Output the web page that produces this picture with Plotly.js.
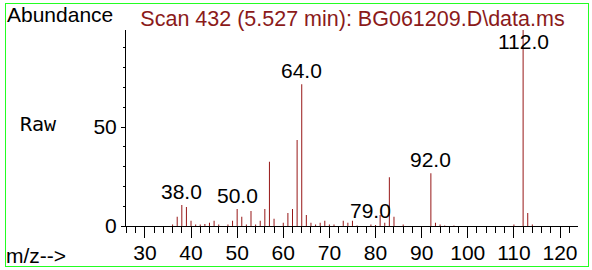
<!DOCTYPE html>
<html>
<head>
<meta charset="utf-8">
<script src="https://cdn.plot.ly/plotly-3.0.1.min.js"></script>
<style>
  html, body { margin: 0; padding: 0; background: #fff; }
  #wrap { position: relative; width: 592px; height: 270px; }
  #chart { width: 592px; height: 270px; }
  #frame { position: absolute; left: 5px; top: 3px; width: 582px; height: 262px;
           border: 1px solid #22ff22; pointer-events: none; }
</style>
</head>
<body>
<div id="wrap"><div id="chart"></div><div id="frame"></div></div>
<script>
// m/z values and abundances
const mz = [36,37,38,39,40,41,42,43,44,45,46,48,49,50,51,52,53,54,55,56,57,58,
            60,61,62,63,64,65,66,67,68,69,70,71,73,74,75,76,79,80,81,82,83,84,86,
            92,93,94,95,97,110,112,113,114];
const abundance = [0.8,4.7,10.6,9.6,2.7,0.8,0.8,1.0,1.7,2.7,0.8,0.8,2.7,8.6,4.7,0.8,7.6,0.8,2.7,8.6,32.5,3.7,
            1.7,6.6,8.6,43.4,71.6,5.6,1.7,0.8,1.7,2.7,0.8,0.8,2.7,1.7,2.7,0.3,0.8,0.5,5.6,1.7,24.6,4.7,0.8,
            26.6,1.7,0.8,0.3,0.3,0.8,99,6.6,0.8];
const labeledPeaks = [38, 50, 64, 79, 92, 112];
const xTickVals = [30,40,50,60,70,80,90,100,110,120];
const yTickVals = [0, 50];
const titleText = "Scan 432 (5.527 min): BG061209.D\\data.ms";

const FONT = "Liberation Sans, Arial, sans-serif";
const yMax = 99;

const annotations = labeledPeaks.map(p => {
  const h = abundance[mz.indexOf(p)];
  const nearTop = h > yMax * 0.95;
  return {
    x: p, y: nearTop ? yMax : h, xref: 'x', yref: 'y',
    text: p.toFixed(1), showarrow: false,
    xanchor: 'center', yanchor: nearTop ? 'top' : 'bottom',
    yshift: nearTop ? 2 : 0,
    font: {family: FONT, size: 21, color: '#000'}
  };
});
annotations.push(
  {text: 'Abundance', xref: 'paper', yref: 'paper', x: -0.268, y: 1.078,
   xanchor: 'left', yanchor: 'middle', showarrow: false,
   font: {family: FONT, size: 21, color: '#000'}},
  {text: 'Raw', xref: 'paper', yref: 'paper', x: -0.238, y: 0.52,
   xanchor: 'left', yanchor: 'middle', showarrow: false,
   font: {family: 'DejaVu Sans Mono, monospace', size: 20, color: '#000'}},
  {text: 'm/z-->', xref: 'paper', yref: 'paper', x: -0.27, y: -0.153,
   xanchor: 'left', yanchor: 'middle', showarrow: false,
   font: {family: FONT, size: 21, color: '#000'}}
);

const trace = {
  type: 'bar', x: mz, y: abundance, width: 0.217,
  marker: {color: 'rgba(150,20,20,0.99)', line: {width: 0}},
  hoverinfo: 'x+y'
};

const layout = {
  width: 592, height: 270,
  margin: {l: 126, r: 14, t: 30, b: 44, pad: 0},
  paper_bgcolor: '#fff', plot_bgcolor: '#fff',
  showlegend: false,
  title: {text: titleText, x: 352.5 / 592, xanchor: 'center', xref: 'container',
          y: 1 - 18 / 270, yanchor: 'middle', yref: 'container',
          font: {family: FONT, size: 21.5, color: '#8b1a1a'}},
  xaxis: {
    range: [25.9, 123.9], showgrid: false, zeroline: false,
    showline: true, linecolor: '#000', linewidth: 1,
    tickmode: 'array', tickvals: xTickVals, ticktext: xTickVals.map(String),
    ticks: 'outside', ticklen: 11, tickwidth: 1, tickcolor: '#000',
    ticklabelstandoff: -3,
    minor: {dtick: 2, tick0: 0, ticks: 'outside', ticklen: 6, tickwidth: 1, tickcolor: '#000', showgrid: false},
    tickfont: {family: FONT, size: 21, color: '#000'}
  },
  yaxis: {
    range: [0, yMax], showgrid: false, zeroline: false,
    showline: true, linecolor: '#000', linewidth: 1,
    tickmode: 'array', tickvals: yTickVals, ticktext: yTickVals.map(String),
    ticks: 'outside', ticklen: 4, tickwidth: 1, tickcolor: '#000',
    minor: {dtick: 10, tick0: 0, ticks: 'outside', ticklen: 2, tickwidth: 1, tickcolor: '#000', showgrid: false},
    tickfont: {family: FONT, size: 21, color: '#000'}
  },
  annotations: annotations
};

Plotly.newPlot('chart', [trace], layout, {displayModeBar: false, responsive: false});
</script>
</body>
</html>
